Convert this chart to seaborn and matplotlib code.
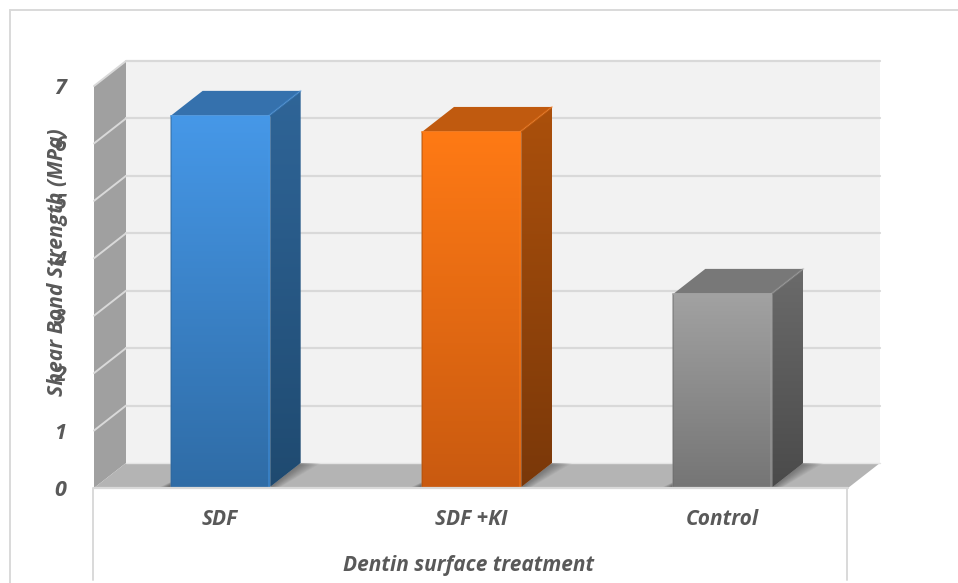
import numpy as np
import pandas as pd
import matplotlib
matplotlib.use("Agg")
import matplotlib.pyplot as plt
from matplotlib.patches import Polygon
from matplotlib.lines import Line2D
import seaborn as sns

treatments = ["SDF", "SDF +KI", "Control"]
strength = [6.48, 6.2, 3.38]
y_ticks = [0, 1, 2, 3, 4, 5, 6, 7]

front_top = ["#4698e8", "#ff7a15", "#a2a2a2"]
front_bottom = ["#2f6ca6", "#c95a10", "#757575"]
side_top = ["#2f6598", "#ab500c", "#6b6b6b"]
side_bottom = ["#1f4a70", "#7a3809", "#4a4a4a"]
roof = ["#3571ad", "#c05a0f", "#787878"]

TEXT = "#595959"
RULE = "#d9d9d9"
FONT = "Open Sans"

W, H = 958, 583
sns.set_theme(style="white")
plt.rcParams["font.family"] = FONT

fig = plt.figure(figsize=(W / 100, H / 100), dpi=100, facecolor="white")
ax = fig.add_axes([94 / W, 1 - 488 / H, (848 - 94) / W, (488 - 86) / H])

df = pd.DataFrame({"treatment": treatments, "strength": strength})
sns.barplot(data=df, x="treatment", y="strength", hue="treatment", palette=front_top,
            width=0.39, legend=False, ax=ax, zorder=5, saturation=1)
bars = list(ax.patches)
ax.set_xlim(-0.5, 2.5)
ax.set_ylim(0, 7)

# depth of the extruded view, expressed in data units
DX = 32 / ((848 - 94) / 3)
DY = 25 / ((488 - 86) / 7)
x0, x1 = ax.get_xlim()
top = y_ticks[-1]


def poly(points, color, z, **kw):
    p = Polygon(points, closed=True, facecolor=color, edgecolor="none", clip_on=False, zorder=z, **kw)
    ax.add_patch(p)
    return p


def shade(patch, c_start, c_end, z):
    """Fill a patch with a vertical gradient running from c_start to c_end."""
    a, b = np.array(matplotlib.colors.to_rgb(c_start)), np.array(matplotlib.colors.to_rgb(c_end))
    t = np.linspace(0, 1, 256)[:, None, None]
    img = a[None, None, :] * (1 - t) + b[None, None, :] * t
    xy = patch.get_path().transformed(patch.get_patch_transform()).vertices
    im = ax.imshow(img, extent=(xy[:, 0].min(), xy[:, 0].max(), xy[:, 1].min(), xy[:, 1].max()),
                   origin="upper", aspect="auto", zorder=z)
    im.set_clip_path(patch)
    return im


# room: back wall, left wall and floor
poly([(x0 + DX, DY), (x1 + DX, DY), (x1 + DX, top + DY), (x0 + DX, top + DY)], "#f2f2f2", 1)
poly([(x0, 0), (x0 + DX, DY), (x0 + DX, top + DY), (x0, top)], "#a0a0a0", 1)
poly([(x0, 0), (x1, 0), (x1 + DX, DY), (x0 + DX, DY)], "#b4b4b4", 1)

for v in y_ticks[1:]:
    ax.add_line(Line2D([x0 + DX, x1 + DX], [v + DY, v + DY], color=RULE, lw=1.6, zorder=2, clip_on=False))
    ax.add_line(Line2D([x0, x0 + DX], [v, v + DY], color=RULE, lw=1.4, zorder=2, clip_on=False))
ax.add_line(Line2D([x0 + DX, x1 + DX], [DY, DY], color="#e4e4e4", lw=1, zorder=2, clip_on=False))

# extruded bars
for i, bar in enumerate(bars):
    left, w, h = bar.get_x(), bar.get_width(), bar.get_height()
    right = left + w

    # soft contact shadows on the floor
    for k in range(10):
        f = 1 - k / 10
        poly([(right, 0), (right + DX, DY), (right + DX + 0.08 * f, DY), (right + 0.04 * f, 0)],
             "#000000", 3, alpha=0.035)
        poly([(left, 0), (left + DX * 0.6, DY * 0.6), (left - 0.01 - 0.04 * f, 0)],
             "#000000", 3, alpha=0.05)

    side = poly([(right, 0), (right + DX, DY), (right + DX, h + DY), (right, h)], "none", 4)
    shade(side, side_top[i], side_bottom[i], 4)
    # roof, softened along its front and right edges
    poly([(left, h), (right, h), (right + DX, h + DY), (left + DX, h + DY)], roof[i], 4)
    ax.add_line(Line2D([right, right + DX], [h, h + DY], color=front_top[i], lw=1.5, alpha=0.35,
                       zorder=4.5, solid_capstyle="round"))

    shade(bar, front_top[i], front_bottom[i], 6)
    ax.add_line(Line2D([left, left], [0, h], color=side_top[i], lw=1.2, alpha=0.55, zorder=7))
    ax.add_line(Line2D([right, right], [0, h], color=front_top[i], lw=1.2, alpha=0.5, zorder=7))
    ax.add_line(Line2D([left, right], [h, h], color=front_top[i], lw=1.2, alpha=0.8, zorder=7,
                       solid_capstyle="round"))

ax.set_xlim(-0.5, 2.5)
ax.set_ylim(0, 7)

# axes furniture
ax.set_xlabel("")
ax.set_ylabel("")
ax.set_yticks(y_ticks)
ax.set_yticklabels(y_ticks, fontsize=15.5, fontweight="bold", fontstyle="italic", color=TEXT)
ax.set_xticks(range(len(treatments)))
ax.set_xticklabels(treatments, fontsize=15, fontweight="bold", fontstyle="italic", color=TEXT)
ax.tick_params(axis="y", length=0, pad=20)
ax.tick_params(axis="x", length=0, pad=15)
for s in ax.spines.values():
    s.set_visible(False)
ax.patch.set_visible(False)
ax.add_line(Line2D([x0, x1], [0, 0], color=RULE, lw=1.6, zorder=8, clip_on=False))

fig.text(58 / W, 1 - 262 / H, "Shear Bond Strength (MPa)", rotation=90, ha="center", va="center",
         fontsize=15.2, fontweight="bold", fontstyle="italic", color=TEXT)
fig.text(469 / W, 1 - 565 / H, "Dentin surface treatment", ha="center", va="center",
         fontsize=15, fontweight="bold", fontstyle="italic", color=TEXT)

# chart frame and the drop lines under the category band
frame = [([10, 10], [10, 583]), ([10, 958], [10, 10]), ([93, 93], [488, 580]), ([847, 847], [488, 580])]
for xs, ys in frame:
    fig.add_artist(Line2D([x / W for x in xs], [1 - y / H for y in ys], color=RULE, lw=1.4))

fig.savefig("out.png", dpi=100, facecolor="white")
